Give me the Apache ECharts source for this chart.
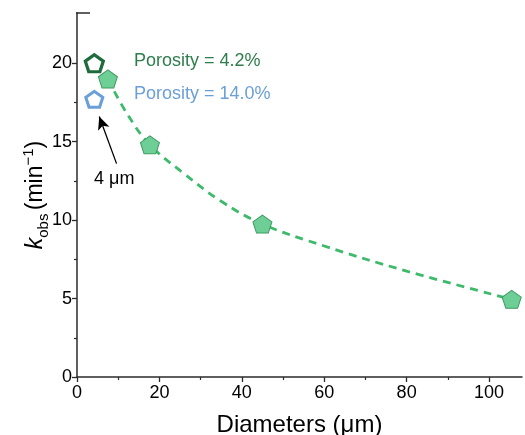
<!DOCTYPE html>
<html>
<head>
<meta charset="utf-8">
<script src="https://cdn.jsdelivr.net/npm/echarts@6/dist/echarts.min.js"></script>
<style>
  html, body { margin: 0; padding: 0; background: #fff; }
  #main { width: 525px; height: 435px; }
</style>
</head>
<body>
<div id="main"></div>
<script>
// measured points (porosity 4.2%)
var diameters = [7.5, 17.7, 45, 105.5]
var kobs = [19.0, 14.8, 9.75, 4.95]
// dashed fit curve
var fitX = [7.5, 12.1, 17.7, 25.8, 35, 45, 60, 80, 105.5]
var fitY = [19.0, 16.8, 14.8, 13.0, 11.2, 9.75, 8.35, 6.75, 4.95]
// 4 um samples
var lowPorosity = [[4.2, 20.0]]
var highPorosity = [[4.2, 17.7]]
// ticks
var xTicks = [0, 20, 40, 60, 80, 100]
var xMinor = [10, 30, 50, 70, 90]
var yTicks = [0, 5, 10, 15, 20]
var yMinor = [2.5, 7.5, 12.5, 17.5]
// arrow: tail -> tip
var arrowFrom = [9.6, 13.6]
var arrowTo = [5.4, 16.6]

var pentagon = 'path://M50,0L97.55,34.55L79.39,90.45L20.61,90.45L2.45,34.55Z'
var axisColor = '#2b2b2b'
var font = 'Liberation Sans, Arial, sans-serif'

var myChart = echarts.init(document.getElementById('main'))

function baseAxis(extra) {
  return Object.assign({
    type: 'value',
    axisLine: { show: true, lineStyle: { color: axisColor, width: 1.5 } },
    splitLine: { show: false },
    minorTick: { show: false }
  }, extra)
}

var option = {
  backgroundColor: '#fff',
  animation: false,
  grid: { left: 77, right: 3, top: 13, bottom: 58, containLabel: false, outerBoundsMode: 'none' },
  xAxis: [
    baseAxis({
      min: 0,
      max: 108,
      interval: 20,
      name: 'Diameters (μm)',
      nameLocation: 'middle',
      nameGap: 36,
      nameTextStyle: { color: '#000', fontSize: 24, fontFamily: font },
      axisTick: { show: true, length: 5, customValues: xTicks, lineStyle: { color: axisColor, width: 1.3 } },
      axisLabel: { customValues: xTicks, color: '#000', fontSize: 18, fontFamily: font, margin: 7 }
    }),
    baseAxis({
      min: 0,
      max: 108,
      position: 'bottom',
      axisLine: { show: false },
      axisTick: { show: true, length: 3, customValues: xMinor, lineStyle: { color: axisColor, width: 1.2 } },
      axisLabel: { show: false }
    })
  ],
  yAxis: [
    baseAxis({
      min: 0,
      max: 23.2,
      interval: 5,
      name: '{k|k}{sub|obs} {n|(min}{sup|−1}{n|)}',
      nameLocation: 'middle',
      nameGap: 26,
      nameMoveOverlap: false,
      nameTextStyle: {
        color: '#000',
        fontFamily: font,
        rich: {
          k: { fontSize: 23, fontStyle: 'italic', fontFamily: font, lineHeight: 30 },
          n: { fontSize: 23, fontFamily: font, lineHeight: 30 },
          sub: { fontSize: 15, fontFamily: font, verticalAlign: 'bottom', lineHeight: 30 },
          sup: { fontSize: 15, fontFamily: font, verticalAlign: 'top', lineHeight: 30 }
        }
      },
      axisTick: { show: true, length: 5, customValues: yTicks, lineStyle: { color: axisColor, width: 1.3 } },
      axisLabel: { customValues: yTicks, color: '#000', fontSize: 18, fontFamily: font, margin: 5 }
    }),
    baseAxis({
      min: 0,
      max: 23.2,
      position: 'left',
      axisLine: { show: false },
      axisTick: { show: true, length: 3, customValues: yMinor, lineStyle: { color: axisColor, width: 1.2 } },
      axisLabel: { show: false }
    })
  ],
  graphic: [
    { type: 'line', shape: { x1: 76, y1: 13, x2: 90, y2: 13 }, style: { stroke: axisColor, lineWidth: 1.5 } },
    { type: 'text', left: 134, top: 52, style: { text: 'Porosity = 4.2%', fill: '#2e7d4c', font: '18px ' + font } },
    { type: 'text', left: 134, top: 85, style: { text: 'Porosity = 14.0%', fill: '#6a9fd8', font: '18px ' + font } },
    { type: 'text', left: 94, top: 170, style: { text: '4 μm', fill: '#000', font: '18px ' + font } }
  ],
  series: [
    {
      name: 'fit',
      type: 'line',
      smooth: 0.4,
      symbol: 'none',
      data: fitX.map(function (d, i) { return [d, fitY[i]] }),
      lineStyle: { color: '#3dba6c', width: 2.8, type: [8, 6] },
      z: 2
    },
    {
      name: 'Porosity 4.2%',
      type: 'scatter',
      symbol: pentagon,
      symbolSize: [19, 18],
      data: diameters.map(function (d, i) { return [d, kobs[i]] }),
      itemStyle: { color: '#6dcf96', borderColor: '#3f9a63', borderWidth: 1, opacity: 1 },
      z: 3
    },
    {
      name: 'low',
      type: 'scatter',
      symbol: pentagon,
      symbolSize: [18, 17],
      data: lowPorosity,
      itemStyle: { color: '#fff', borderColor: '#1e6b3c', borderWidth: 3.2, opacity: 1 },
      z: 3
    },
    {
      name: 'high',
      type: 'scatter',
      symbol: pentagon,
      symbolSize: [17, 16],
      data: highPorosity,
      itemStyle: { color: '#fff', borderColor: '#6a9fd8', borderWidth: 3, opacity: 1 },
      z: 3,
      markLine: {
        silent: true,
        symbol: ['none', 'arrow'],
        symbolSize: [9, 13],
        label: { show: false },
        lineStyle: { color: '#000', width: 1.3, type: 'solid' },
        data: [[{ coord: arrowFrom }, { coord: arrowTo }]]
      }
    }
  ]
}

myChart.setOption(option)
</script>
</body>
</html>
